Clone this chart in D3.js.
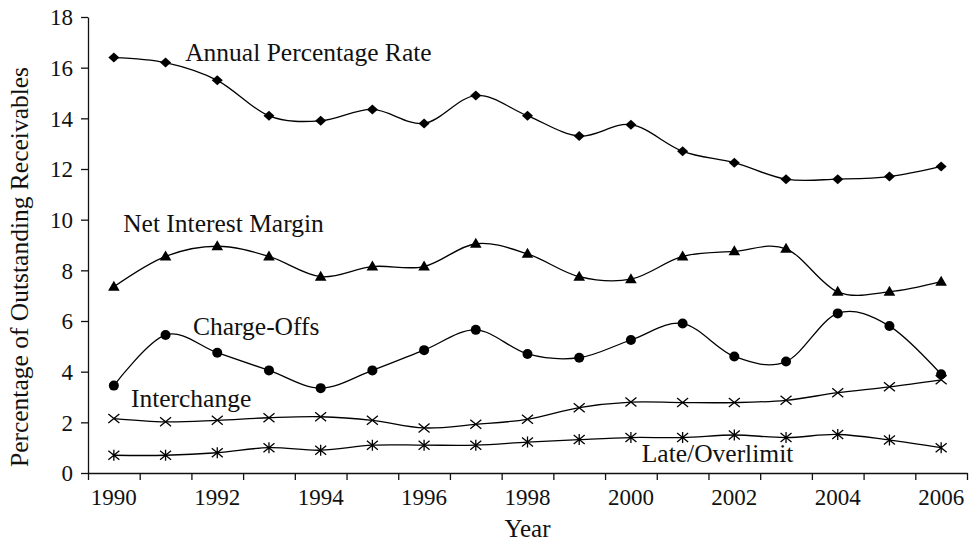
<!DOCTYPE html>
<html>
<head>
<meta charset="utf-8">
<script src="https://cdn.jsdelivr.net/npm/d3@7"></script>
<style>
  body { margin: 0; background: #fff; }
  svg text { font-family: 'Liberation Serif', 'Times New Roman', serif; fill: #111; }
</style>
</head>
<body>
<svg id="canvas" width="969" height="541"></svg>
<script>
let years = d3.range(1990, 2007)

let aprValues = [16.4, 16.2, 15.5, 14.1, 13.9, 14.35, 13.8, 14.9, 14.1, 13.3, 13.75, 12.7, 12.25, 11.6, 11.6, 11.7, 12.1]
let nimValues = [7.35, 8.55, 8.95, 8.55, 7.75, 8.15, 8.15, 9.05, 8.65, 7.75, 7.65, 8.55, 8.75, 8.85, 7.15, 7.15, 7.55]
let chargeOffValues = [3.45, 5.45, 4.75, 4.05, 3.35, 4.05, 4.85, 5.65, 4.7, 4.55, 5.25, 5.9, 4.6, 4.4, 6.3, 5.8, 3.9]
let interchangeValues = [2.15, 2.02, 2.08, 2.18, 2.22, 2.08, 1.78, 1.92, 2.12, 2.58, 2.8, 2.78, 2.78, 2.87, 3.17, 3.4, 3.68]
let lateValues = [0.7, 0.7, 0.8, 1.0, 0.9, 1.1, 1.1, 1.1, 1.22, 1.32, 1.4, 1.4, 1.5, 1.4, 1.52, 1.3, 1.0]

let yTicks = d3.range(0, 20, 2)
let xTickYears = years.filter((y) => y % 2 === 0)

let seriesNames = ['Annual Percentage Rate', 'Net Interest Margin', 'Charge-Offs', 'Interchange', 'Late/Overlimit']
let seriesMarkers = ['diamond', 'triangle', 'circle', 'cross', 'asterisk']
let seriesValues = [aprValues, nimValues, chargeOffValues, interchangeValues, lateValues]
// label anchor: [offset in bands from the first year, value at the baseline]
let labelPos = [[1.38, 16.27], [0.18, 9.51], [1.53, 5.45], [0.33, 2.6], [10.21, 0.43]]

let margin = {top: 17, right: 2, bottom: 68, left: 88}
let width = 969 - margin.left - margin.right
let height = 541 - margin.top - margin.bottom

let canvas = d3.select('#canvas')
let chart = canvas.append('g')
    .attr('transform', 'translate(' + margin.left + ',' + margin.top + ')')

let xScale = d3.scaleBand()
    .domain(years)
    .range([0, width])
    .padding(0)

let xEdge = d3.scaleLinear()
    .domain([0, years.length])
    .range([0, width])

let yScale = d3.scaleLinear()
    .domain([0, 18])
    .range([height, 0])

let xPos = (i) => xScale(years[i]) + xScale.bandwidth() / 2

// y axis
let yAxis = chart.append('g')
    .call(d3.axisLeft(yScale).tickValues(yTicks).tickSize(7).tickSizeOuter(0).tickPadding(8))
yAxis.selectAll('text').style('font-size', '23px').attr('dy', '0.34em')

// x axis ticks sit on the band edges, labels in the band centres
let xAxis = chart.append('g')
    .attr('transform', 'translate(0,' + height + ')')
    .call(d3.axisBottom(xEdge).tickValues(d3.range(0, years.length + 1)).tickSize(7).tickSizeOuter(0).tickFormat(''))

let xLabels = chart.append('g')
    .attr('transform', 'translate(0,' + height + ')')
    .call(d3.axisBottom(xScale).tickValues(xTickYears).tickSize(0).tickPadding(16))
xLabels.select('.domain').remove()
xLabels.selectAll('text').style('font-size', '23px')

chart.selectAll('.domain, .tick line').attr('stroke', '#111').attr('stroke-width', 1.3)

// axis titles
chart.append('text')
    .attr('x', width / 2)
    .attr('y', height + 64)
    .attr('text-anchor', 'middle')
    .style('font-size', '25px')
    .text('Year')

chart.append('text')
    .attr('transform', 'translate(' + (-60) + ',' + (height / 2 + 22) + ') rotate(-90)')
    .attr('text-anchor', 'middle')
    .style('font-size', '25.5px')
    .text('Percentage of Outstanding Receivables')

let line = d3.line()
    .x((d, i) => xPos(i))
    .y((d) => yScale(d))
    .curve(d3.curveCardinal.tension(0))

let drawMarker = (g, type) => {
    if (type === 'diamond') {
        g.append('path').attr('d', 'M0,-5L5.5,0L0,5L-5.5,0Z').attr('fill', '#000')
    } else if (type === 'triangle') {
        g.append('path').attr('d', 'M0,-6L5.8,4L-5.8,4Z').attr('fill', '#000')
    } else if (type === 'circle') {
        g.append('circle').attr('r', 5).attr('fill', '#000')
    } else if (type === 'cross') {
        g.append('path').attr('d', 'M-5.5,-4.5L5.5,4.5M-5.5,4.5L5.5,-4.5')
            .attr('stroke', '#000').attr('stroke-width', 1.3).attr('fill', 'none')
    } else if (type === 'asterisk') {
        g.append('path').attr('d', 'M-5.5,-4.5L5.5,4.5M-5.5,4.5L5.5,-4.5M0,-5.5L0,5.5')
            .attr('stroke', '#000').attr('stroke-width', 1.3).attr('fill', 'none')
    }
}

seriesValues.forEach((values, s) => {
    chart.append('path')
        .datum(values)
        .attr('d', line)
        .attr('fill', 'none')
        .attr('stroke', '#000')
        .attr('stroke-width', 1.3)

    chart.append('g')
        .selectAll('g')
        .data(values)
        .enter()
        .append('g')
        .attr('transform', (d, i) => 'translate(' + xPos(i) + ',' + yScale(d) + ')')
        .each(function () {
            drawMarker(d3.select(this), seriesMarkers[s])
        })

    chart.append('text')
        .attr('x', xPos(0) + labelPos[s][0] * xScale.bandwidth())
        .attr('y', yScale(labelPos[s][1]))
        .style('font-size', '25.5px')
        .text(seriesNames[s])
})
</script>
</body>
</html>
